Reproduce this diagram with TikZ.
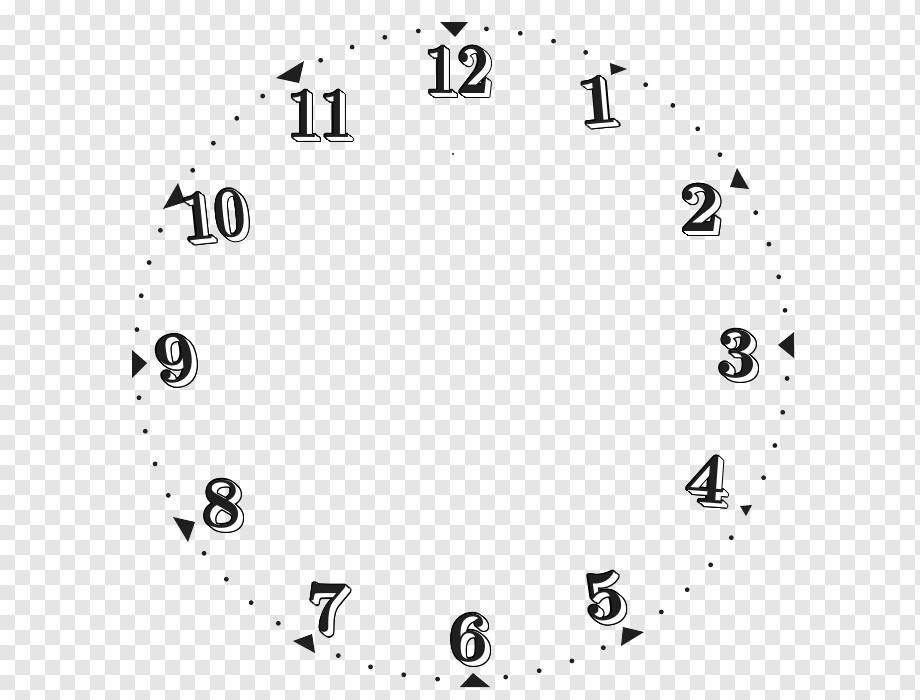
\documentclass[tikz,border=0pt]{standalone}
\definecolor{chk}{gray}{0.898}
\definecolor{ink}{gray}{0.12}
\tikzset{
  num/.style={inner sep=0pt, font=\fontsize{72}{72}\selectfont\bfseries},
  tick/.style={fill=ink},
}
\newcommand\clk[6]{% name x y rot xscale text
  \foreach \s in {0,...,5}{\foreach \a in {0,45,...,315}{
    \node[num,text=black,rotate=#4,xscale=#5] at ({#2+\s+1.2*cos(\a)},{#3+0.8*\s+1.2*sin(\a)}) {#6};}}
  \foreach \s in {1,...,5}{\node[num,text=white,rotate=#4,xscale=#5] at ({#2+\s},{#3+0.8*\s}) {#6};}
  \node[num,text=ink,rotate=#4,xscale=#5] (#1) at (#2,#3) {#6};
}
\begin{document}
\begin{tikzpicture}[x=1pt,y=-1pt]
\useasboundingbox (0,0) rectangle (920,699);
% transparency checkerboard
\begin{scope}
\clip (0,0) rectangle (920,699);
\fill[white] (0,0) rectangle (920,699);
\foreach \j in {0,...,46}{
  \pgfmathsetmacro{\off}{15*(1-mod(\j,2))}
  \foreach \i in {0,...,30}{
    \fill[chk] ({\off+30*\i},{15*\j}) rectangle ++(15,15);
  }
}
\end{scope}
% minute dots
\foreach \k in {0,...,59}{
  \pgfmathtruncatemacro{\m}{mod(\k,5)}
  \ifnum\m>0
    \fill[tick] ({462+326*sin(6*\k-1.7)},{354-326*cos(6*\k-1.7)}) circle (2.4);
  \fi
}
% hour triangles
\fill[tick] (440,22) -- (468,22) -- (455,37) -- cycle;
\fill[tick] (610,63) -- (627,69) -- (611,75) -- cycle;
\fill[tick] (737,168) -- (730,187) -- (749,189) -- cycle;
\fill[tick] (778,345) -- (794,332) -- (794,358) -- cycle;
\fill[tick] (740,506) -- (752,505) -- (746,516) -- cycle;
\fill[tick] (623,627) -- (644,632) -- (621,646) -- cycle;
\fill[tick] (473,673) -- (460,687) -- (490,687) -- cycle;
\fill[tick] (293,641) -- (312,634) -- (315,653) -- cycle;
\fill[tick] (173,517) -- (195,522) -- (188,542) -- cycle;
\fill[tick] (147,363) -- (132,350) -- (132,378) -- cycle;
\fill[tick] (178,183) -- (185,202) -- (163,209) -- cycle;
\fill[tick] (304,61) -- (276,78) -- (299,83) -- cycle;
% stray speck
\fill[tick] (453,154) circle (1.2);
% numerals
\clk{n12}{457}{70}{0}{0.8}{12}
\clk{n1}{598}{100}{5}{1}{1}
\clk{n11}{320}{114}{0}{0.8}{11}
\clk{n2}{700}{208}{0}{1}{2}
\clk{n10}{214}{215}{6}{0.8}{10}
\clk{n3}{737}{354}{0}{1}{3}
\clk{n9}{175}{359}{8}{1}{9}
\clk{n4}{706}{479}{-4}{1}{4}
\clk{n8}{222}{504}{0}{1}{8}
\clk{n5}{604}{597}{8}{1}{5}
\clk{n7}{327}{608}{0}{1}{7}
\clk{n6}{469}{638}{0}{1}{6}
\end{tikzpicture}
\end{document}
